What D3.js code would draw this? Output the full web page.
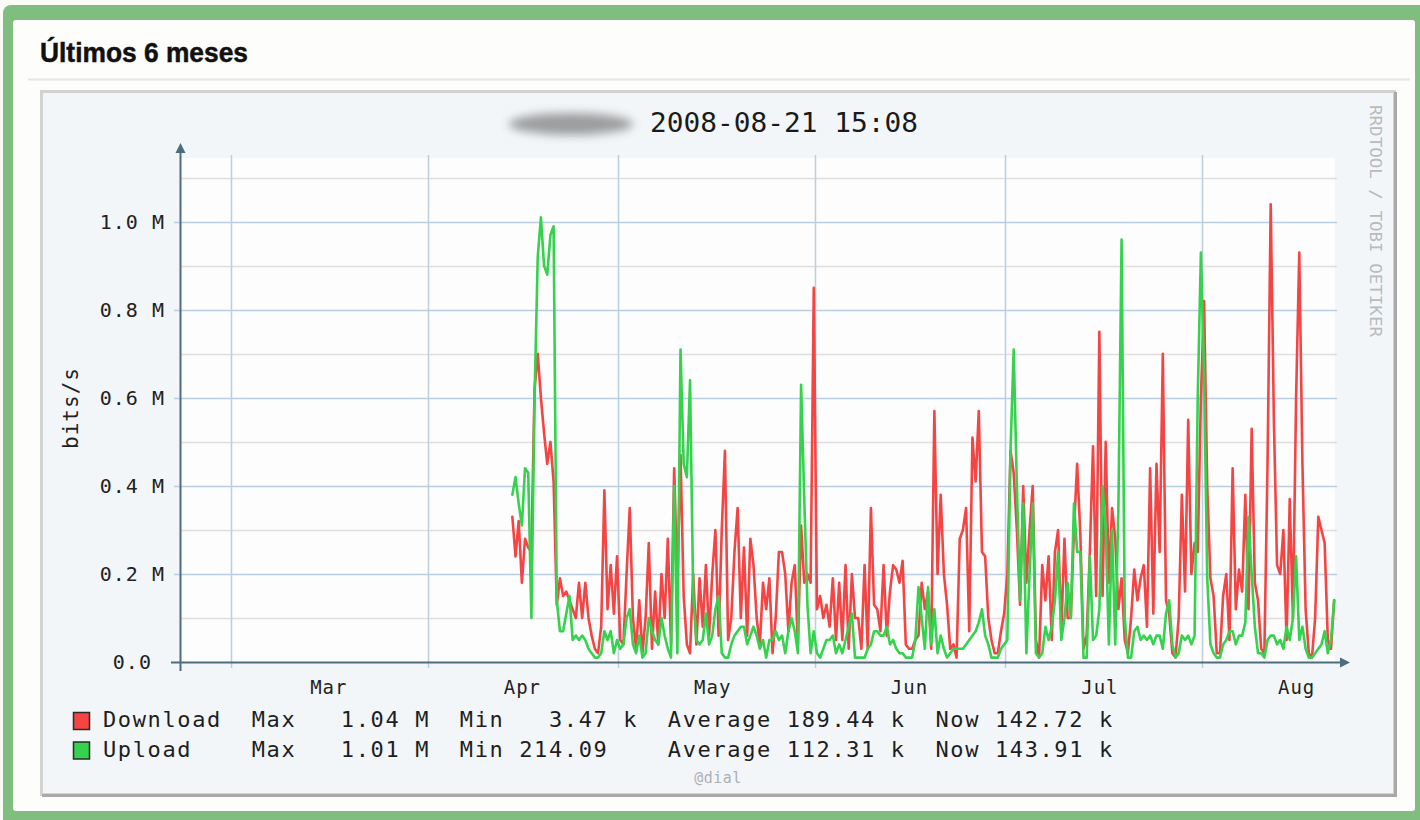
<!DOCTYPE html>
<html>
<head>
<meta charset="utf-8">
<script src="https://cdn.jsdelivr.net/npm/d3@7"></script>
<style>
  html, body { margin: 0; padding: 0; background: #fbfbf8; }
  svg { display: block; }
  .mono { font-family: "DejaVu Sans Mono", monospace; }
</style>
</head>
<body>
<svg id="chart" width="1420" height="820"></svg>
<script>
// ---- data (Mbit/s), one sample every 12 h ----
const seriesStart = "2008-04-14T00:00";
const stepHours = 12;

const download = [
  0.33,0.24,0.32,0.18,0.28,0.26,0.25,0.62,0.70,0.60,0.52,0.45,0.50,0.41,0.13,0.19,0.15,0.16,0.14,0.12,
  0.10,0.18,0.10,0.18,0.10,0.06,0.03,0.02,0.08,0.39,0.12,0.22,0.11,0.24,0.05,0.04,0.20,0.35,0.10,0.03,
  0.14,
  0.02,0.10,0.27,0.03,0.16,0.04,0.20,0.10,0.28,0.04,0.44,0.18,0.47,0.15,0.04,0.02,0.20,0.04,0.19,0.08,
  0.22,0.06,0.20,0.30,0.06,0.30,0.48,0.05,0.10,0.25,0.35,0.10,0.26,0.06,0.28,0.22,0.10,0.04,0.18,0.12,
  0.19,0.02,0.10,0.25,
  0.25,0.20,0.07,0.18,0.22,0.04,0.31,0.18,0.20,0.18,0.85,0.12,0.15,0.10,0.13,0.08,0.19,0.05,0.18,0.05,
  0.22,0.03,0.20,0.10,0.10,0.03,0.22,0.03,0.35,0.13,0.12,0.07,0.22,0.06,0.16,0.22,0.21,0.18,0.23,0.04,
  0.03,0.03,0.05,0.06,
  0.18,0.12,0.16,0.03,0.57,0.20,0.38,0.20,0.13,0.03,0.04,0.01,0.28,0.30,0.35,0.07,0.51,0.41,0.57,0.25,
  0.24,0.10,0.05,0.02,0.02,0.07,0.11,0.20,0.48,0.43,0.30,0.13,0.40,0.18,0.30,0.40,0.05,0.01,0.22,0.14,
  0.24,0.05,0.25,0.30,
  0.07,0.28,0.10,0.10,0.30,0.45,0.29,0.03,0.06,0.25,0.49,0.15,0.75,0.15,0.50,0.18,0.35,0.28,0.12,0.19,
  0.05,0.02,0.10,0.21,0.14,0.19,0.22,0.08,0.44,0.11,0.45,0.25,0.70,0.14,0.11,0.02,0.01,0.10,0.38,0.16,
  0.55,0.20,0.27,0.25,
  0.60,0.82,0.40,0.19,0.15,0.02,0.02,0.15,0.20,0.05,0.44,0.12,0.21,0.16,0.38,0.12,0.53,0.18,0.14,0.03,
  0.02,0.45,1.04,0.55,0.22,0.20,0.30,0.05,0.37,0.10,0.60,0.93,0.45,0.12,0.02,0.01,0.10,0.33,0.30,0.27,
  0.05,0.03,0.14
];

const upload = [
  0.38,0.42,0.36,0.31,0.44,0.43,0.10,0.60,0.92,1.01,0.90,0.88,0.97,0.99,0.14,0.07,0.07,0.11,0.15,0.05,
  0.06,0.05,0.06,0.05,0.03,0.02,0.01,0.01,0.02,0.07,0.05,0.07,0.02,0.05,0.03,0.04,0.10,0.12,0.04,0.02,
  0.06,
  0.01,0.02,0.10,0.07,0.05,0.04,0.10,0.06,0.03,0.01,0.40,0.02,0.71,0.45,0.42,0.64,0.15,0.05,0.04,0.05,
  0.11,0.04,0.06,0.12,0.15,0.02,0.01,0.01,0.04,0.06,0.07,0.08,0.08,0.04,0.06,0.08,0.06,0.03,0.05,0.01,
  0.05,0.05,0.07,0.05,
  0.06,0.02,0.07,0.10,0.07,0.02,0.63,0.37,0.13,0.02,0.07,0.02,0.01,0.03,0.05,0.05,0.06,0.02,0.04,0.02,
  0.05,0.08,0.11,0.01,0.01,0.01,0.01,0.03,0.04,0.07,0.07,0.06,0.06,0.08,0.04,0.05,0.03,0.02,0.02,0.01,
  0.01,0.01,0.05,0.17,
  0.10,0.03,0.17,0.04,0.12,0.02,0.06,0.03,0.01,0.02,0.03,0.03,0.03,0.03,0.04,0.05,0.06,0.07,0.09,0.12,
  0.06,0.04,0.01,0.01,0.01,0.03,0.04,0.05,0.48,0.71,0.40,0.14,0.36,0.02,0.20,0.36,0.02,0.01,0.02,0.08,
  0.05,0.08,0.14,0.25,
  0.05,0.10,0.18,0.10,0.36,0.25,0.25,0.01,0.01,0.24,0.05,0.06,0.12,0.40,0.30,0.04,0.30,0.04,0.35,0.96,
  0.10,0.01,0.01,0.07,0.08,0.05,0.06,0.05,0.06,0.04,0.06,0.06,0.03,0.11,0.14,0.04,0.01,0.02,0.06,0.05,
  0.06,0.04,0.06,0.60,
  0.93,0.65,0.19,0.04,0.02,0.01,0.01,0.04,0.05,0.07,0.07,0.04,0.06,0.06,0.09,0.33,0.20,0.08,0.02,0.02,
  0.01,0.05,0.06,0.06,0.04,0.05,0.03,0.08,0.05,0.10,0.24,0.05,0.08,0.03,0.01,0.01,0.02,0.03,0.04,0.07,
  0.02,0.05,0.14
];

const monthStarts = ["2008-03-01","2008-04-01","2008-05-01","2008-06-01","2008-07-01","2008-08-01"];
const monthMids = ["2008-03-16T00:00","2008-04-15T12:00","2008-05-15T12:00","2008-06-15T12:00","2008-07-15T12:00","2008-08-15T12:00"];
const majorTicks = [0, 0.2, 0.4, 0.6, 0.8, 1.0];
const minorTicks = [0.1, 0.3, 0.5, 0.7, 0.9, 1.1];

const seriesNames = ["Download", "Upload"];
const seriesColors = ["#f44444", "#35d24e"];
const legendRows = [
  "Download  Max   1.04 M  Min   3.47 k  Average 189.44 k  Now 142.72 k",
  "Upload    Max   1.01 M  Min 214.09    Average 112.31 k  Now 143.91 k"
];

// ---- setup ----
const svg = d3.select("#chart");
const parseT = d3.timeParse("%Y-%m-%dT%H:%M");
const parseD = d3.timeParse("%Y-%m-%d");

const x = d3.scaleTime()
  .domain([new Date(2008, 1, 21, 15, 8), new Date(2008, 7, 21, 15, 8)])
  .range([180, 1335]);
const y = d3.scaleLinear().domain([0, 1.145]).range([662, 158]);

const t0 = parseT(seriesStart);
const toPoints = vals => vals.map((v, i) => ({ t: new Date(+t0 + i * stepHours * 3600e3), v }));

// page frame
svg.append("rect").attr("x", 3).attr("y", 5).attr("width", 1430).attr("height", 830)
  .attr("rx", 8).attr("fill", "#80be80");
svg.append("rect").attr("x", 13).attr("y", 20).attr("width", 1402).attr("height", 791)
  .attr("rx", 3).attr("fill", "#fdfdfb");

svg.append("text").attr("x", 40).attr("y", 62)
  .attr("font-family", "Liberation Sans, Arial, sans-serif").attr("font-weight", "bold")
  .attr("font-size", 28).attr("textLength", 208).attr("lengthAdjust", "spacingAndGlyphs")
  .attr("stroke", "#111").attr("stroke-width", 0.5)
  .attr("fill", "#111").text("Últimos 6 meses");

svg.append("line").attr("x1", 28).attr("x2", 1410).attr("y1", 79.5).attr("y2", 79.5)
  .attr("stroke", "#e6e6e2").attr("stroke-width", 2);

// rrd image box
svg.append("rect").attr("x", 41.5).attr("y", 91.5).attr("width", 1353).attr("height", 703)
  .attr("fill", "#f2f6f9").attr("stroke", "#d2d3d1").attr("stroke-width", 3);
svg.append("path").attr("d", "M1395.5,92 V795.5 H42")
  .attr("fill", "none").attr("stroke", "#a9aaa8").attr("stroke-width", 3);

// blurred host name
const defs = svg.append("defs");
defs.append("filter").attr("id", "blur").attr("x", "-30%").attr("y", "-80%").attr("width", "160%").attr("height", "260%")
  .append("feGaussianBlur").attr("stdDeviation", 5);
defs.append("clipPath").attr("id", "plotClip").append("rect")
  .attr("x", 180).attr("y", 150).attr("width", 1157).attr("height", 514);

svg.append("ellipse").attr("cx", 571).attr("cy", 124).attr("rx", 62).attr("ry", 11)
  .attr("fill", "#8e8e8e").attr("opacity", 0.85).attr("filter", "url(#blur)");

svg.append("text").attr("class", "mono").attr("x", 650).attr("y", 132)
  .attr("font-size", 27).attr("textLength", 268).attr("lengthAdjust", "spacingAndGlyphs")
  .attr("fill", "#1a1a1a").text("2008-08-21 15:08");

svg.append("text").attr("class", "mono")
  .attr("transform", "translate(1370,105) rotate(90)")
  .attr("font-size", 16).attr("textLength", 232).attr("lengthAdjust", "spacingAndGlyphs")
  .attr("fill", "#b8babc").text("RRDTOOL / TOBI OETIKER");

// plot area
svg.append("rect").attr("x", 180).attr("y", 158).attr("width", 1155).attr("height", 504)
  .attr("fill", "#fdfdfd");

const grid = svg.append("g");
grid.selectAll(".minor").data(minorTicks).join("line")
  .attr("x1", 180).attr("x2", 1337)
  .attr("y1", d => Math.round(y(d)) + 0.5).attr("y2", d => Math.round(y(d)) + 0.5)
  .attr("stroke", "#dedede").attr("stroke-width", 1.5);
grid.selectAll(".major").data(majorTicks.slice(1)).join("line")
  .attr("x1", 174).attr("x2", 1337)
  .attr("y1", d => Math.round(y(d)) + 0.5).attr("y2", d => Math.round(y(d)) + 0.5)
  .attr("stroke", "#b8cde0").attr("stroke-width", 1.5);
grid.selectAll(".vgrid").data(monthStarts.map(parseD)).join("line")
  .attr("x1", d => Math.round(x(d)) - 1.5).attr("x2", d => Math.round(x(d)) - 1.5)
  .attr("y1", 155).attr("y2", 668)
  .attr("stroke", "#bccfdf").attr("stroke-width", 1.5);

// y axis labels
const yAxis = svg.append("g").attr("transform", "translate(180,0)")
  .call(d3.axisLeft(y).tickValues(majorTicks).tickSize(0).tickPadding(15)
    .tickFormat(d => d === 0 ? "0.0 " : d.toFixed(1) + " M"));
yAxis.select(".domain").remove();
yAxis.selectAll("text").attr("class", "mono").attr("font-size", 20)
  .attr("letter-spacing", 1).attr("fill", "#222").style("white-space", "pre");

svg.append("text").attr("class", "mono")
  .attr("transform", "translate(78,408) rotate(-90)").attr("text-anchor", "middle")
  .attr("font-size", 21).attr("letter-spacing", 1).attr("fill", "#222").text("bits/s");

// x axis labels
const xAxis = svg.append("g").attr("transform", "translate(0,662)")
  .call(d3.axisBottom(x).tickValues(monthMids.map(parseT)).tickSize(0).tickPadding(19)
    .tickFormat(d3.timeFormat("%b")));
xAxis.select(".domain").remove();
xAxis.selectAll("text").attr("class", "mono").attr("font-size", 19)
  .attr("letter-spacing", 1).attr("fill", "#222");

// series
const line = d3.line().x(d => x(d.t)).y(d => y(d.v));
const plot = svg.append("g").attr("clip-path", "url(#plotClip)");
[download, upload].forEach((vals, k) => {
  plot.append("path").datum(toPoints(vals))
    .attr("d", line).attr("fill", "none")
    .attr("stroke", seriesColors[k]).attr("stroke-width", 2.6)
    .attr("stroke-linejoin", "round").attr("stroke-linecap", "round");
});

// axis lines with arrows
const axisColor = "#4d6d7e";
svg.append("line").attr("x1", 180.5).attr("x2", 180.5).attr("y1", 671).attr("y2", 150)
  .attr("stroke", axisColor).attr("stroke-width", 2);
svg.append("path").attr("d", "M180.5,143 L175.5,153 L185.5,153 Z").attr("fill", axisColor);
svg.append("line").attr("x1", 171).attr("x2", 1343).attr("y1", 662.5).attr("y2", 662.5)
  .attr("stroke", axisColor).attr("stroke-width", 2);
svg.append("path").attr("d", "M1350,662.5 L1340,657.5 L1340,667.5 Z").attr("fill", axisColor);

// legend
const legend = svg.append("g");
legendRows.forEach((row, k) => {
  const cy = 721 + k * 29.5;
  legend.append("rect").attr("x", 73.5).attr("y", cy - 8.5).attr("width", 16).attr("height", 17)
    .attr("fill", seriesColors[k]).attr("stroke", "#2a2a2a").attr("stroke-width", 1.5);
  legend.append("text").attr("class", "mono").attr("x", 103).attr("y", cy)
    .attr("dominant-baseline", "middle").attr("font-size", 22).attr("letter-spacing", 1.62)
    .attr("fill", "#1e1e1e").style("white-space", "pre").text(row);
});

svg.append("text").attr("class", "mono").attr("x", 718).attr("y", 778)
  .attr("text-anchor", "middle").attr("dominant-baseline", "middle")
  .attr("font-size", 15).attr("letter-spacing", 0.5).attr("fill", "#aeb0b2").text("@dial");
</script>
</body>
</html>
